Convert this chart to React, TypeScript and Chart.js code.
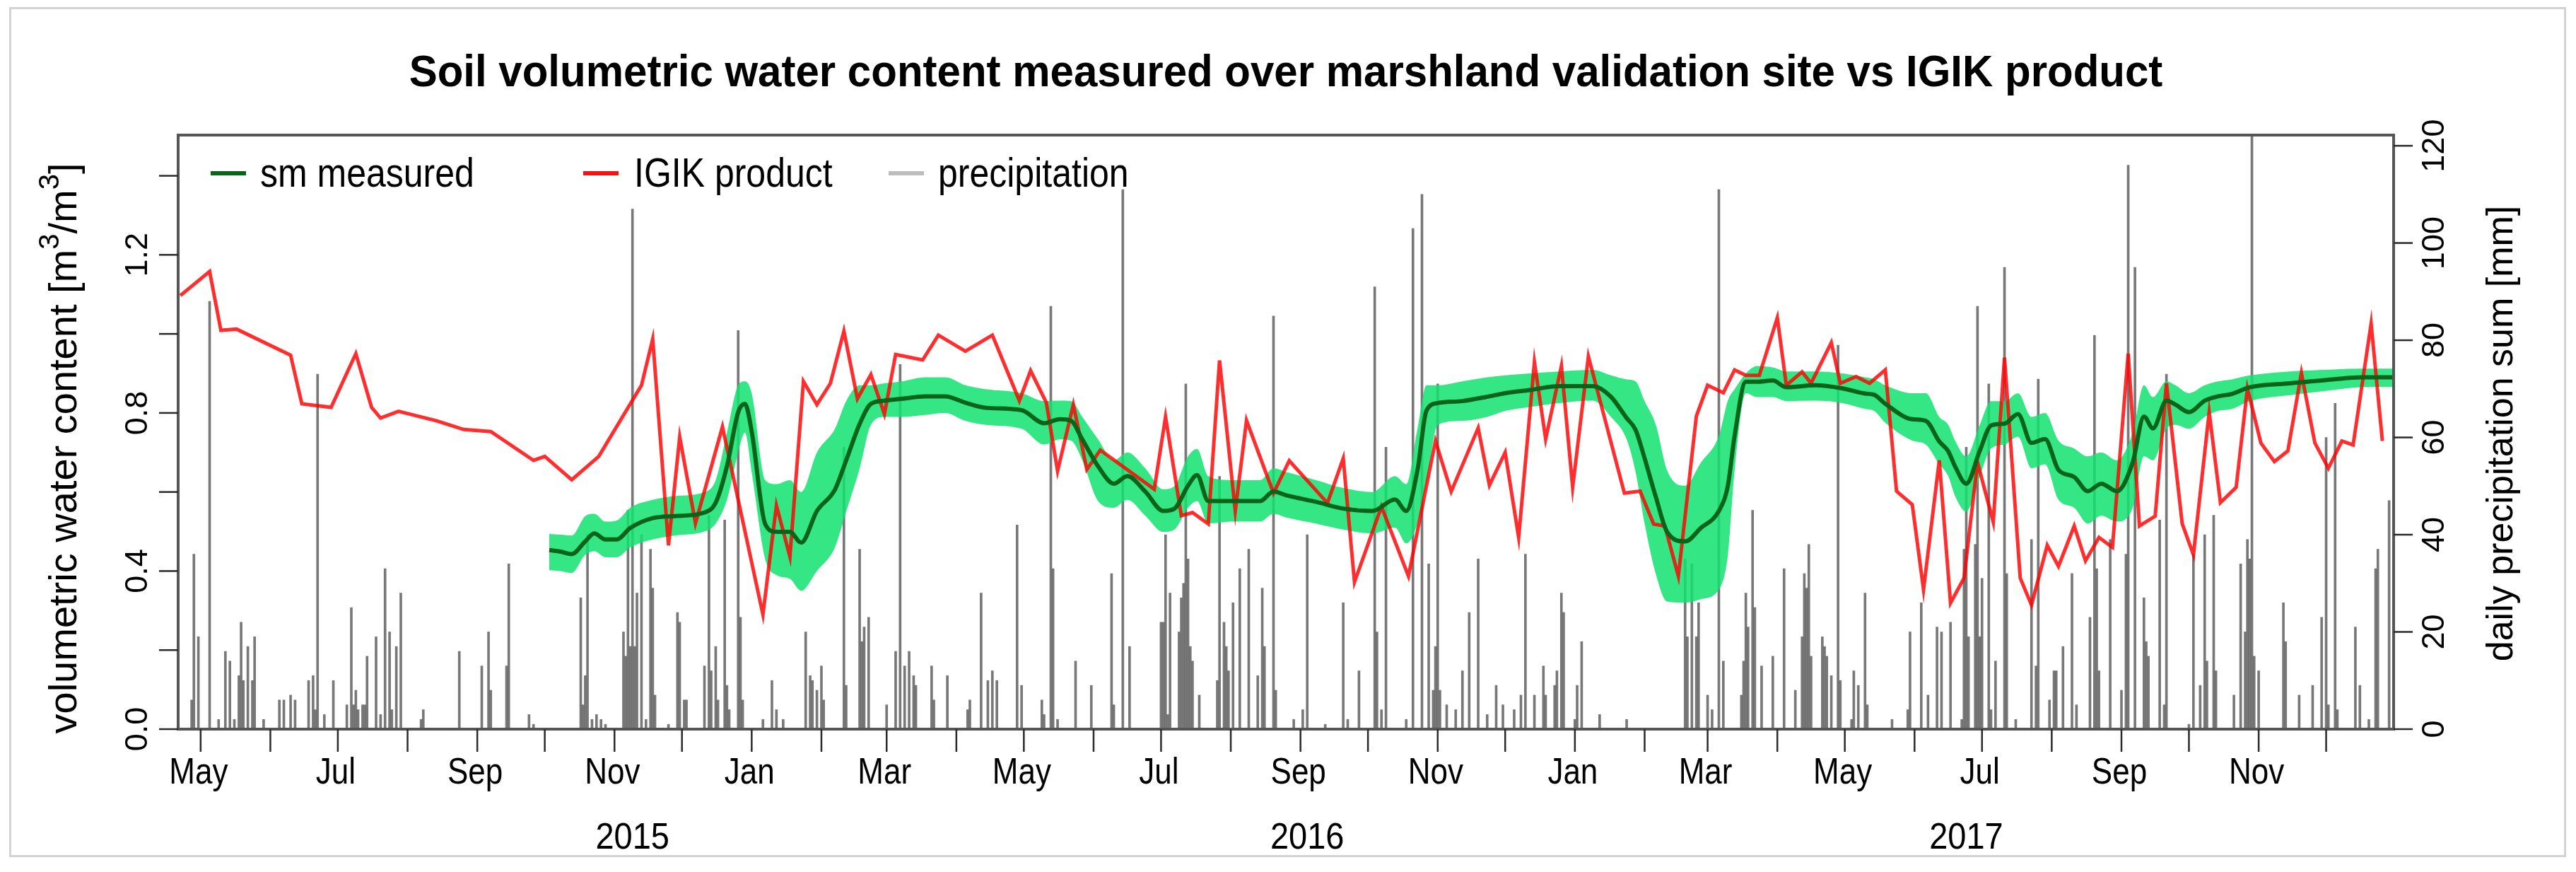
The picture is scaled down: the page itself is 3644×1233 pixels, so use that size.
import React, { useEffect, useRef } from "react";
import { Chart, registerables } from "chart.js";

Chart.register(...registerables);

const W = 3644;
const H = 1233;
const FONT = '"Liberation Sans", Arial, Helvetica, sans-serif';

// ---- axis ranges (x = days since 2015-01-01) ----
const X_MIN_DAY = 110; // 2015-04-21
const X_MAX_DAY = 1095; // 2017-12-31
const SM_MAX = 1.503;
const PRECIP_MAX = 122.2;

// ---- tick values / labels ----
const monthTickDays = [120, 151, 181, 212, 243, 273, 304, 334, 365, 396, 425, 456, 486, 517, 547, 578, 609, 639, 670, 700, 731, 762, 790, 821, 851, 882, 912, 943, 974, 1004, 1035, 1065];
const monthTickLabels = ["May", "", "Jul", "", "Sep", "", "Nov", "", "Jan", "", "Mar", "", "May", "", "Jul", "", "Sep", "", "Nov", "", "Jan", "", "Mar", "", "May", "", "Jul", "", "Sep", "", "Nov", ""];
const yearLabels = ["2015", "2016", "2017"];
const yearLabelDays = [312, 612, 905];
const smTicks = [0, 0.2, 0.4, 0.6, 0.8, 1.0, 1.2, 1.4];
const smTickLabels = ["0.0", "", "0.4", "", "0.8", "", "1.2", ""];
const precipTicks = [0, 20, 40, 60, 80, 100, 120];
const precipTickLabels = ["0", "20", "40", "60", "80", "100", "120"];

const titleText = "Soil volumetric water content measured over marshland validation site vs IGIK product";
const legendLabels = ["sm measured", "IGIK product", "precipitation"];

// ---- sm measured (green line) and its band ----
const smDays = [275, 280, 285, 291, 295, 300, 305, 311, 321, 331, 344, 349, 354, 359, 362, 365, 371, 376, 382, 387, 394, 402, 407, 413, 418, 424, 432, 442, 451, 460, 469, 485, 495, 502, 507, 512, 519, 526, 532, 540, 548, 553, 559, 563, 568, 578, 591, 597, 603, 616, 628, 641, 651, 656, 661, 665, 670, 681, 692, 700, 711, 724, 739, 747, 754, 758, 762, 767, 772, 780, 787, 795, 799, 802, 807, 812, 819, 825, 838, 850, 860, 864, 869, 881, 887, 893, 897, 900, 905, 911, 916, 922, 928, 934, 940, 946, 953, 959, 965, 972, 979, 984, 988, 994, 998, 1004, 1011, 1017, 1023, 1031, 1049, 1068, 1081, 1095];
const smValues = [0.453, 0.449, 0.443, 0.475, 0.495, 0.48, 0.48, 0.509, 0.534, 0.539, 0.548, 0.573, 0.665, 0.802, 0.823, 0.753, 0.519, 0.499, 0.499, 0.472, 0.552, 0.606, 0.68, 0.772, 0.823, 0.831, 0.836, 0.842, 0.842, 0.826, 0.813, 0.807, 0.774, 0.784, 0.78, 0.733, 0.665, 0.621, 0.64, 0.601, 0.552, 0.558, 0.616, 0.643, 0.577, 0.577, 0.577, 0.601, 0.591, 0.575, 0.558, 0.552, 0.581, 0.552, 0.655, 0.806, 0.825, 0.83, 0.841, 0.85, 0.858, 0.868, 0.868, 0.841, 0.787, 0.757, 0.685, 0.587, 0.499, 0.475, 0.509, 0.552, 0.616, 0.742, 0.879, 0.879, 0.882, 0.865, 0.87, 0.862, 0.849, 0.846, 0.823, 0.784, 0.78, 0.728, 0.703, 0.665, 0.621, 0.704, 0.768, 0.773, 0.797, 0.724, 0.734, 0.656, 0.638, 0.602, 0.621, 0.602, 0.675, 0.791, 0.761, 0.831, 0.821, 0.802, 0.831, 0.842, 0.848, 0.865, 0.875, 0.885, 0.89, 0.89];
const smUpper = [0.494, 0.492, 0.49, 0.539, 0.545, 0.525, 0.528, 0.56, 0.58, 0.59, 0.6, 0.63, 0.75, 0.87, 0.88, 0.85, 0.63, 0.62, 0.63, 0.6, 0.7, 0.76, 0.83, 0.87, 0.87, 0.875, 0.88, 0.89, 0.89, 0.87, 0.86, 0.85, 0.83, 0.831, 0.83, 0.79, 0.733, 0.68, 0.7, 0.66, 0.607, 0.615, 0.69, 0.709, 0.64, 0.63, 0.63, 0.66, 0.65, 0.63, 0.61, 0.6, 0.64, 0.62, 0.76, 0.87, 0.87, 0.88, 0.89, 0.895, 0.9, 0.905, 0.909, 0.895, 0.885, 0.88, 0.83, 0.77, 0.655, 0.616, 0.674, 0.742, 0.831, 0.86, 0.9, 0.919, 0.915, 0.905, 0.905, 0.9, 0.89, 0.885, 0.87, 0.85, 0.85, 0.79, 0.77, 0.73, 0.69, 0.77, 0.83, 0.83, 0.85, 0.79, 0.8, 0.73, 0.71, 0.69, 0.7, 0.68, 0.75, 0.87, 0.84, 0.88, 0.87, 0.85, 0.87, 0.88, 0.885, 0.895, 0.905, 0.91, 0.912, 0.912];
const smLower = [0.402, 0.4, 0.395, 0.441, 0.45, 0.435, 0.435, 0.46, 0.48, 0.49, 0.5, 0.52, 0.58, 0.7, 0.75, 0.65, 0.43, 0.39, 0.38, 0.35, 0.4, 0.46, 0.55, 0.66, 0.77, 0.79, 0.79, 0.795, 0.8, 0.78, 0.77, 0.76, 0.72, 0.733, 0.73, 0.68, 0.577, 0.56, 0.58, 0.54, 0.499, 0.505, 0.56, 0.577, 0.52, 0.525, 0.525, 0.545, 0.535, 0.52, 0.505, 0.495, 0.51, 0.47, 0.52, 0.62, 0.77, 0.78, 0.79, 0.805, 0.815, 0.825, 0.831, 0.79, 0.733, 0.65, 0.52, 0.392, 0.323, 0.32, 0.329, 0.353, 0.44, 0.655, 0.85, 0.84, 0.84, 0.83, 0.831, 0.825, 0.81, 0.805, 0.775, 0.73, 0.72, 0.67, 0.64, 0.59, 0.55, 0.64, 0.71, 0.72, 0.74, 0.66, 0.67, 0.58, 0.56, 0.52, 0.54, 0.525, 0.56, 0.69, 0.68, 0.76, 0.77, 0.76, 0.79, 0.805, 0.81, 0.83, 0.845, 0.858, 0.865, 0.866];

// ---- IGIK product (red line) ----
const igikDays = [111, 124, 129, 136, 160, 165, 178, 189, 196, 200, 208, 225, 237, 249, 268, 273, 285, 297, 316, 321, 328, 333, 340, 352, 370, 376, 382, 388, 394, 400, 406, 412, 418, 424, 429, 441, 448, 460, 472, 484, 489, 496, 501, 508, 514, 520, 544, 549, 556, 561, 568, 573, 580, 585, 597, 604, 621, 628, 633, 645, 657, 669, 676, 688, 693, 700, 706, 713, 718, 725, 730, 737, 753, 760, 766, 771, 777, 785, 790, 797, 802, 807, 813, 821, 825, 832, 836, 845, 849, 856, 862, 869, 874, 881, 886, 893, 898, 904, 910, 917, 922, 929, 934, 941, 946, 953, 958, 964, 970, 977, 982, 989, 994, 1001, 1006, 1013, 1018, 1025, 1030, 1036, 1042, 1048, 1054, 1060, 1066, 1072, 1077, 1085, 1090];
const igikValues = [1.097, 1.158, 1.009, 1.012, 0.946, 0.823, 0.814, 0.95, 0.814, 0.787, 0.804, 0.78, 0.758, 0.753, 0.68, 0.69, 0.631, 0.69, 0.87, 0.987, 0.465, 0.739, 0.521, 0.765, 0.29, 0.566, 0.436, 0.88, 0.821, 0.875, 1.007, 0.836, 0.897, 0.797, 0.948, 0.934, 0.997, 0.956, 0.997, 0.831, 0.907, 0.826, 0.653, 0.821, 0.657, 0.706, 0.607, 0.79, 0.54, 0.548, 0.519, 0.933, 0.552, 0.781, 0.597, 0.679, 0.572, 0.685, 0.372, 0.563, 0.387, 0.729, 0.601, 0.762, 0.617, 0.7, 0.485, 0.929, 0.734, 0.919, 0.612, 0.943, 0.597, 0.602, 0.519, 0.514, 0.387, 0.792, 0.87, 0.851, 0.909, 0.895, 0.895, 1.041, 0.87, 0.904, 0.875, 0.978, 0.875, 0.892, 0.875, 0.909, 0.602, 0.568, 0.353, 0.68, 0.319, 0.382, 0.675, 0.524, 0.94, 0.382, 0.314, 0.465, 0.412, 0.514, 0.426, 0.485, 0.46, 0.95, 0.514, 0.539, 0.875, 0.52, 0.441, 0.802, 0.573, 0.612, 0.862, 0.724, 0.677, 0.704, 0.901, 0.724, 0.66, 0.729, 0.719, 1.026, 0.729];

// ---- daily precipitation (days with rain) ----
const precipDays = [
  116, 117, 119, 124, 128, 131, 133, 135, 137, 138, 139, 141, 143, 144, 148, 155, 157, 160, 162, 168, 170, 171, 172, 175, 179, 185, 187, 188, 189, 190, 192, 193, 194, 198, 200, 202, 204, 205, 207, 209, 218, 219, 235, 245, 248, 249, 256, 257, 266, 268, 289, 290, 291, 292, 294, 296, 298, 300,
  308, 309, 310, 311, 312, 313, 314, 316, 318, 320, 321, 322, 328, 332, 333, 335, 336, 344, 346, 347, 349, 350, 353, 354, 355, 359, 360, 361, 370, 374, 376, 379, 389, 391, 392, 394, 396, 397, 406, 407, 413, 414, 415, 417, 425, 429, 431, 433, 435, 437, 438, 445, 446, 452, 461, 462, 467, 470, 472, 474, 483, 485, 494, 495, 498, 499, 501,
  509, 516, 525, 526, 530, 533, 547, 548, 549, 550, 551, 555, 556, 557, 558, 559, 560, 561, 564, 572, 573, 575, 576, 577, 579, 582, 586, 590, 592, 593, 597, 598, 606, 610, 612, 620, 628, 630, 635, 642, 643, 645, 647, 656, 659, 663, 666, 668, 669, 670, 671, 674, 678, 681, 684, 688, 692, 696, 699,
  704, 707, 709, 713, 717, 718, 722, 723, 725, 726, 731, 732, 734, 742, 754, 780, 781, 783, 785, 786, 790, 792, 795, 797, 805, 806, 807, 808, 810, 811, 814, 819, 824, 829, 832, 833, 834, 835, 836, 841, 842, 843, 845, 848, 849, 854, 855, 857, 860, 861, 872, 879, 880, 885, 888, 892, 894,
  898, 903, 904, 905, 906, 909, 910, 911, 912, 915, 916, 918, 922, 923, 927, 934, 936, 937, 942, 944, 945, 948, 952, 954, 960, 962, 963, 964, 969, 974, 976, 977, 980, 984, 985, 986, 991, 993, 994, 1004, 1006, 1009, 1011, 1012, 1015, 1016, 1024, 1027, 1029, 1030, 1031, 1032, 1033, 1035, 1046, 1047, 1053, 1059, 1063, 1065, 1066, 1069, 1070, 1078, 1080, 1084, 1087, 1088, 1093,
];
const precipMm = [
  6, 36, 19, 88, 2, 16, 14, 2, 11, 22, 10, 17, 10, 19, 2, 6, 6, 7, 6, 10, 11, 4, 73, 3, 10, 5, 25, 5, 8, 4, 5, 5, 15, 19, 3, 33, 20, 4, 17, 28, 2, 4, 16, 13, 20, 8, 13, 34, 3, 1, 27, 5, 11, 40, 2, 3, 2, 1,
  20, 15, 45, 17, 107, 17, 28, 40, 2, 37, 29, 7, 1, 24, 22, 6, 6, 13, 44, 12, 17, 6, 43, 9, 4, 82, 23, 6, 2, 10, 4, 2, 20, 11, 10, 8, 13, 6, 58, 9, 37, 18, 21, 23, 5, 16, 75, 13, 16, 11, 9, 13, 6, 11, 4, 6, 28, 10, 12, 10, 42, 9, 6, 3, 87, 33, 2,
  14, 9, 32, 5, 111, 17, 22, 22, 40, 3, 28, 20, 27, 30, 71, 35, 17, 14, 7, 10, 52, 22, 17, 12, 26, 33, 37, 11, 29, 17, 85, 8, 2, 4, 40, 1, 26, 2, 12, 91, 20, 4, 58, 2, 103, 110, 34, 8, 17, 71, 8, 5, 4, 12, 24, 35, 3, 9, 5,
  4, 7, 36, 7, 13, 7, 9, 12, 28, 24, 2, 9, 18, 3, 2, 35, 19, 34, 19, 26, 7, 4, 111, 14, 7, 14, 28, 21, 45, 25, 13, 15, 33, 8, 19, 32, 29, 38, 15, 19, 17, 15, 11, 79, 10, 2, 12, 9, 28, 5, 2, 4, 20, 26, 7, 21, 20,
  22, 2, 37, 58, 19, 38, 87, 19, 31, 71, 4, 14, 95, 32, 2, 39, 13, 72, 6, 12, 12, 17, 32, 5, 23, 81, 33, 12, 39, 8, 36, 116, 95, 27, 18, 15, 43, 5, 73, 1, 36, 9, 40, 14, 44, 12, 7, 34, 20, 39, 35, 130, 15, 12, 26, 18, 7, 9, 23, 60, 5, 67, 4, 21, 9, 2, 33, 37, 47,
];

// ---- colours ----
const GREEN = "#086419";
const RED = "rgba(255, 0, 0, 0.82)";
const BAND = "rgba(18, 226, 110, 0.85)";
const PRECIP = "rgba(90, 90, 90, 0.82)";
const PRECIP_LEGEND = "#bdbdbd";

type TxtOpts = { bold?: boolean; align?: CanvasTextAlign; base?: CanvasTextBaseline; rot?: number; sy?: number };

function txt(ctx: CanvasRenderingContext2D, s: string, x: number, y: number, size: number, o: TxtOpts = {}) {
  ctx.save();
  ctx.translate(x, y);
  if (o.rot) ctx.rotate(o.rot);
  ctx.scale(1, o.sy ?? 1);
  ctx.font = `${o.bold ? "bold " : ""}${size}px ${FONT}`;
  ctx.textAlign = o.align ?? "center";
  ctx.textBaseline = o.base ?? "alphabetic";
  ctx.fillStyle = "#000";
  ctx.fillText(s, 0, 0);
  ctx.restore();
}

function line(ctx: CanvasRenderingContext2D, x1: number, y1: number, x2: number, y2: number) {
  ctx.beginPath();
  ctx.moveTo(x1, y1);
  ctx.lineTo(x2, y2);
  ctx.stroke();
}

const decorPlugin = {
  id: "decor",
  afterDraw(chart: any) {
    const { ctx, chartArea: a, scales } = chart;
    const xs = scales.x;
    const ys = scales.y;
    const y2s = scales.y2;
    ctx.save();

    // outer frame
    ctx.strokeStyle = "#d3d3d3";
    ctx.lineWidth = 3;
    ctx.strokeRect(14.5, 11.5, 3614, 1199);

    // plot box
    ctx.strokeStyle = "#555";
    ctx.lineWidth = 4;
    ctx.strokeRect(a.left, a.top, a.right - a.left, a.bottom - a.top);

    // x axis ticks + month labels
    ctx.strokeStyle = "#2a2a2a";
    ctx.lineWidth = 2.5;
    monthTickDays.forEach((d, i) => {
      const px = xs.getPixelForValue(d);
      line(ctx, px, a.bottom, px, a.bottom + 32);
      if (monthTickLabels[i]) txt(ctx, monthTickLabels[i], px - 3, 1108, 44, { sy: 1.16 });
    });
    yearLabels.forEach((t, i) => {
      txt(ctx, t, xs.getPixelForValue(yearLabelDays[i]), 1200, 47, { sy: 1.1 });
    });

    // left axis
    smTicks.forEach((v, i) => {
      const py = ys.getPixelForValue(v);
      line(ctx, a.left - 27, py, a.left, py);
      if (smTickLabels[i]) txt(ctx, smTickLabels[i], 196, py, 45, { rot: -Math.PI / 2, base: "middle" });
    });
    // right axis
    precipTicks.forEach((v, i) => {
      const py = y2s.getPixelForValue(v);
      line(ctx, a.right, py, a.right + 27, py);
      txt(ctx, precipTickLabels[i], 3445, py, 45, { rot: -Math.PI / 2, base: "middle" });
    });

    // left axis title with superscripts
    {
      const F = 56;
      const parts: [string, boolean][] = [["volumetric water content [m", false], ["3", true], ["/m", false], ["3", true], ["]", false]];
      ctx.save();
      ctx.translate(93, 634);
      ctx.rotate(-Math.PI / 2);
      ctx.fillStyle = "#000";
      ctx.textBaseline = "middle";
      ctx.textAlign = "left";
      let total = 0;
      const widths = parts.map(([t, sup]) => {
        ctx.font = `${sup ? Math.round(F * 0.72) : F}px ${FONT}`;
        const w = ctx.measureText(t).width;
        total += w;
        return w;
      });
      let cx = -total / 2;
      parts.forEach(([t, sup], i) => {
        ctx.font = `${sup ? Math.round(F * 0.72) : F}px ${FONT}`;
        ctx.fillText(t, cx, sup ? -F * 0.38 : 0);
        cx += widths[i];
      });
      ctx.restore();
    }
    // right axis title
    txt(ctx, "daily precipitation sum [mm]", 3540, 613, 52, { rot: -Math.PI / 2, base: "middle" });

    // title
    txt(ctx, titleText, 1819, 122, 60, { bold: true, sy: 1.05 });

    // legend
    const segX = [298, 825, 1257];
    const textX = [368, 897, 1327];
    const cols = [GREEN, "#f01414", PRECIP_LEGEND];
    legendLabels.forEach((l, i) => {
      ctx.strokeStyle = cols[i];
      ctx.lineWidth = 6;
      line(ctx, segX[i], 245, segX[i] + 50, 245);
      txt(ctx, l, textX[i], 264, 50, { align: "left", sy: 1.15 });
    });

    ctx.restore();
  },
};

export default function App() {
  const ref = useRef<HTMLCanvasElement>(null);

  useEffect(() => {
    const canvas = ref.current;
    if (!canvas) return;
    const chart = new Chart(canvas, {
      type: "line",
      data: {
        datasets: [
          {
            label: "sm measured",
            data: smDays.map((d, i) => ({ x: d, y: smValues[i] })),
            borderColor: GREEN,
            borderWidth: 6,
            pointRadius: 0,
            cubicInterpolationMode: "monotone",
            yAxisID: "y",
            order: 0,
          },
          {
            label: "IGIK product",
            data: igikDays.map((d, i) => ({ x: d, y: igikValues[i] })),
            borderColor: RED,
            borderWidth: 5,
            pointRadius: 0,
            tension: 0,
            yAxisID: "y",
            order: 1,
          },
          {
            label: "band upper",
            data: smDays.map((d, i) => ({ x: d, y: smUpper[i] })),
            borderWidth: 0,
            borderColor: "rgba(0,0,0,0)",
            pointRadius: 0,
            cubicInterpolationMode: "monotone",
            fill: false,
            yAxisID: "y",
            order: 2,
          },
          {
            label: "band lower",
            data: smDays.map((d, i) => ({ x: d, y: smLower[i] })),
            borderWidth: 0,
            borderColor: "rgba(0,0,0,0)",
            backgroundColor: BAND,
            pointRadius: 0,
            cubicInterpolationMode: "monotone",
            fill: "-1",
            yAxisID: "y",
            order: 3,
          },
          {
            type: "bar",
            label: "precipitation",
            data: precipDays.map((d, i) => ({ x: d, y: precipMm[i] })),
            backgroundColor: PRECIP,
            borderWidth: 0,
            barThickness: 3,
            yAxisID: "y2",
            order: 5,
          } as any,
        ],
      },
      options: {
        animation: false,
        responsive: false,
        devicePixelRatio: 1,
        events: [],
        layout: { padding: { left: 252, top: 191, right: 258, bottom: 202 } },
        plugins: { legend: { display: false }, tooltip: { enabled: false }, title: { display: false } },
        scales: {
          x: { type: "linear", min: X_MIN_DAY, max: X_MAX_DAY, display: false, offset: false },
          y: { type: "linear", min: 0, max: SM_MAX, display: false },
          y2: { type: "linear", min: 0, max: PRECIP_MAX, display: false, position: "right" },
        },
      },
      plugins: [decorPlugin],
    });
    return () => chart.destroy();
  }, []);

  return (
    <div style={{ position: "fixed", left: 0, top: 0, width: W, height: H, background: "#fff" }}>
      <canvas ref={ref} width={W} height={H} style={{ width: `${W}px`, height: `${H}px`, display: "block" }} />
    </div>
  );
}
